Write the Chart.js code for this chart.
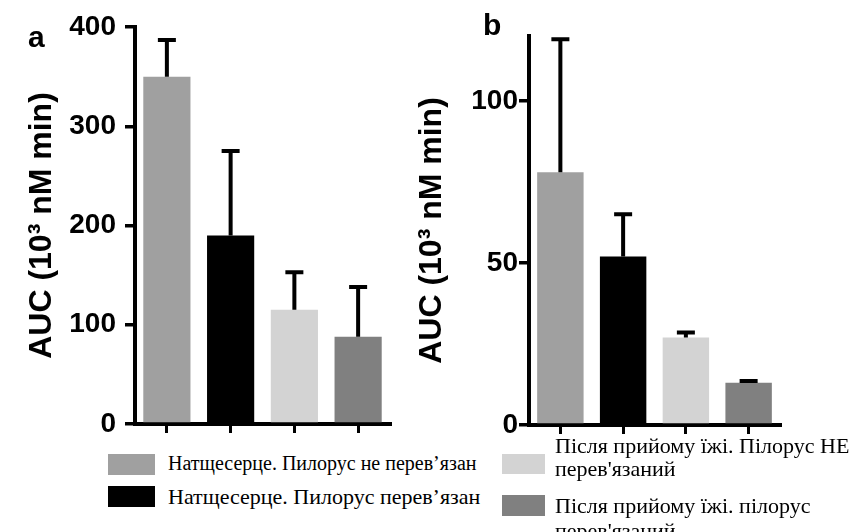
<!DOCTYPE html>
<html>
<head>
<meta charset="utf-8">
<script src="https://cdn.jsdelivr.net/npm/chart.js@4.4.0/dist/chart.umd.min.js"></script>
<style>
body { margin: 0; background: #fff; }
#page { position: relative; width: 858px; height: 532px; overflow: hidden; background: #fff; }
#wrapA { position: absolute; left: 0; top: 0; width: 430px; height: 440px; }
#wrapB { position: absolute; left: 410px; top: 0; width: 448px; height: 440px; }
.panel { position: absolute; font: bold 30px "Liberation Sans", Arial, sans-serif; line-height: 30px; color: #000; }
.box { position: absolute; }
.lg { position: absolute; font-family: "Liberation Serif", "Times New Roman", serif; color: #000; white-space: nowrap; }
</style>
</head>
<body>
<div id="page">
    <div id="wrapA"><canvas id="chartA" width="430" height="440"></canvas></div>
    <div id="wrapB"><canvas id="chartB" width="448" height="440"></canvas></div>
    <div class="panel" style="left:28px; top:22px;">a</div>
    <div class="panel" style="left:483px; top:10px;">b</div>

    <div class="box" style="left:108px; top:454px; width:47px; height:21px; background:#a0a0a0;"></div>
    <div class="lg" style="left:168px; top:453px; font-size:20px; line-height:20px;">Натщесерце. Пилорус не перев’язан</div>
    <div class="box" style="left:108px; top:486px; width:47px; height:21px; background:#000;"></div>
    <div class="lg" style="left:168px; top:486px; font-size:22px; line-height:22px;">Натщесерце. Пилорус перев’язан</div>

    <div class="box" style="left:502px; top:454px; width:43px; height:20px; background:#d3d3d3;"></div>
    <div class="lg" style="left:555px; top:434px; font-size:22px; line-height:23px;">Після прийому їжі. Пілорус НЕ<br>перев'язаний</div>
    <div class="box" style="left:502px; top:495px; width:43px; height:21px; background:#808080;"></div>
    <div class="lg" style="left:555px; top:493px; font-size:22px; line-height:25px;">Після прийому їжі. пілорус<br>перев'язаний</div>
</div>
<script>
var categories = [
    'Натщесерце. Пилорус не перев’язан',
    'Натщесерце. Пилорус перев’язан',
    "Після прийому їжі. Пілорус НЕ перев'язаний",
    "Після прийому їжі. пілорус перев'язаний"
];
var barColors = ['#a0a0a0', '#000000', '#d3d3d3', '#808080'];

// panel a
var valuesA = [350, 190, 115, 88];
var errorsA = [37, 85, 38, 50];
var ticksA = [0, 100, 200, 300, 400];

// panel b
var valuesB = [78, 52, 27, 13];
var errorsB = [41, 13, 1.5, 0.6];
var ticksB = [0, 50, 100];

var axisTitle = 'AUC (10³ nM min)';
var sansFont = '"Liberation Sans", Arial, sans-serif';

var errorBarPlugin = {
    id: 'errorBars',
    afterDatasetsDraw: function (chart, args, options) {
        var ctx = chart.ctx;
        var yScale = chart.scales.y;
        var meta = chart.getDatasetMeta(0);
        var values = chart.data.datasets[0].data;
        ctx.save();
        ctx.strokeStyle = '#000';
        ctx.lineWidth = 4;
        meta.data.forEach(function (bar, i) {
            var yBase = yScale.getPixelForValue(values[i]);
            var yTop = yScale.getPixelForValue(values[i] + options.errors[i]);
            ctx.beginPath();
            ctx.moveTo(bar.x, yBase);
            ctx.lineTo(bar.x, yTop);
            ctx.moveTo(bar.x - 9, yTop);
            ctx.lineTo(bar.x + 9, yTop);
            ctx.stroke();
        });
        ctx.restore();
    }
};

function createChart(canvasId, values, errors, tickValues, yMax, lay) {
    var ctx = document.getElementById(canvasId).getContext('2d');
    return new Chart(ctx, {
        type: 'bar',
        data: {
            labels: categories,
            datasets: [{
                data: values,
                backgroundColor: barColors,
                borderWidth: 0,
                categoryPercentage: 1,
                barPercentage: 0.74
            }]
        },
        options: {
            responsive: false,
            animation: false,
            layout: { padding: { left: 0, top: lay.top, right: lay.right, bottom: 0 } },
            plugins: {
                legend: { display: false },
                tooltip: { enabled: false },
                errorBars: { errors: errors }
            },
            scales: {
                x: {
                    ticks: { display: false },
                    grid: { drawOnChartArea: false, offset: false, drawTicks: true, tickLength: 9, color: '#000', lineWidth: 3 },
                    border: { display: true, color: '#000', width: 4 },
                    afterFit: function (scale) {
                        scale.height = lay.xHeight;
                        scale.paddingLeft = 0;
                        scale.paddingRight = 0;
                    }
                },
                y: {
                    min: 0,
                    max: yMax,
                    afterBuildTicks: function (scale) {
                        scale.ticks = tickValues.map(function (v) { return { value: v }; });
                    },
                    ticks: { color: '#000', padding: lay.tickPad, font: { family: sansFont, weight: 'bold', size: 28 } },
                    grid: { drawOnChartArea: false, drawTicks: true, tickLength: 10, color: '#000', lineWidth: 3.5 },
                    border: { display: true, color: '#000', width: 4 },
                    title: {
                        display: true,
                        text: axisTitle,
                        color: '#000',
                        font: { family: sansFont, weight: 'bold', size: 32 },
                        padding: { top: lay.titlePad, bottom: 0 }
                    },
                    afterFit: function (scale) {
                        scale.width = lay.yWidth;
                        scale.paddingTop = 0;
                        scale.paddingBottom = 0;
                    }
                }
            }
        },
        plugins: [errorBarPlugin]
    });
}

createChart('chartA', valuesA, errorsA, ticksA, 400,
    { top: 27, right: 40, xHeight: 16, yWidth: 135, tickPad: 9, titlePad: 23 });
createChart('chartB', valuesB, errorsB, ticksB, 120,
    { top: 36, right: 78, xHeight: 15, yWidth: 119, tickPad: 1, titlePad: 3 });
</script>
</body>
</html>
